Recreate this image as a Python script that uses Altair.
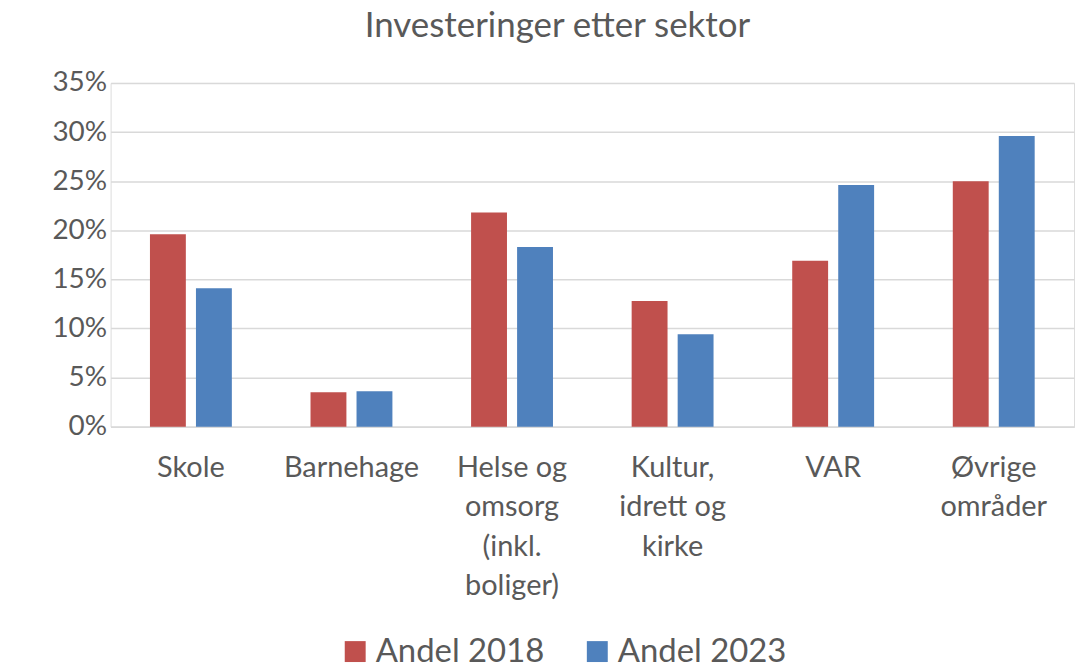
import altair as alt
import pandas as pd

categories = ["Skole", "Barnehage", "Helse og omsorg (inkl. boliger)",
              "Kultur, idrett og kirke", "VAR", "Øvrige områder"]
label_lines = [["Skole"], ["Barnehage"], ["Helse og", "omsorg", "(inkl.", "boliger)"],
               ["Kultur,", "idrett og", "kirke"], ["VAR"], ["Øvrige", "områder"]]
series = ["Andel 2018", "Andel 2023"]
andel_2018 = [0.196, 0.035, 0.218, 0.128, 0.169, 0.250]
andel_2023 = [0.141, 0.036, 0.183, 0.094, 0.246, 0.296]
y_ticks = [0, 0.05, 0.10, 0.15, 0.20, 0.25, 0.30, 0.35]
colors = ["#c0504d", "#4f81bd"]

rows = []
for c, a, b in zip(categories, andel_2018, andel_2023):
    rows.append({"Sektor": c, "Serie": series[0], "Andel": a})
    rows.append({"Sektor": c, "Serie": series[1], "Andel": b})
df = pd.DataFrame(rows)

expr = "''"
for c, lines in zip(categories, label_lines):
    arr = "[" + ",".join("'" + l + "'" for l in lines) + "]"
    expr = f"datum.value == '{c}' ? {arr} : ({expr})"

FONT = "Lato"
TXT = "#595959"
GRID = "#d9d9d9"

chart = alt.Chart(df).mark_bar().encode(
    x=alt.X("Sektor:N", sort=categories, title=None,
            scale=alt.Scale(paddingInner=0.49, paddingOuter=0.245),
            axis=alt.Axis(labelAngle=0, labelExpr=expr, labelLineHeight=39.5,
                          labelFontSize=29, labelFont=FONT, labelColor=TXT,
                          labelPadding=27, ticks=False, domainColor=GRID,
                          domainWidth=1.5, labelLimit=300)),
    xOffset=alt.XOffset("Serie:N", sort=series,
                        scale=alt.Scale(paddingInner=0.22, paddingOuter=0)),
    y=alt.Y("Andel:Q", title=None,
            scale=alt.Scale(domain=[0, 0.35], nice=False),
            axis=alt.Axis(values=y_ticks, format=".0%", grid=True, gridColor=GRID,
                          gridWidth=1.5, domain=False, ticks=False,
                          labelFontSize=28, labelFont=FONT, labelColor=TXT,
                          labelPadding=4)),
    color=alt.Color("Serie:N", sort=series,
                    scale=alt.Scale(domain=series, range=colors),
                    legend=alt.Legend(title=None, orient="none", direction="horizontal",
                                      legendX=229, legendY=554,
                                      symbolType="square", symbolSize=441,
                                      symbolStrokeWidth=0, labelFontSize=33,
                                      labelFont=FONT, labelColor=TXT, labelLimit=400,
                                      labelOffset=4, columnPadding=36)),
).properties(
    width=967, height=345,
    title=alt.TitleParams("Investeringer etter sektor", font=FONT, fontSize=35,
                          fontWeight="normal", color=TXT, anchor="middle",
                          dx=-35, offset=25),
    autosize=alt.AutoSizeParams(type="none"),
    padding={"left": 103, "top": 74, "right": 5, "bottom": 240},
).configure_view(stroke=None).configure(background="white")

chart.save("out.html", embed_options={"renderer": "svg", "actions": False})
